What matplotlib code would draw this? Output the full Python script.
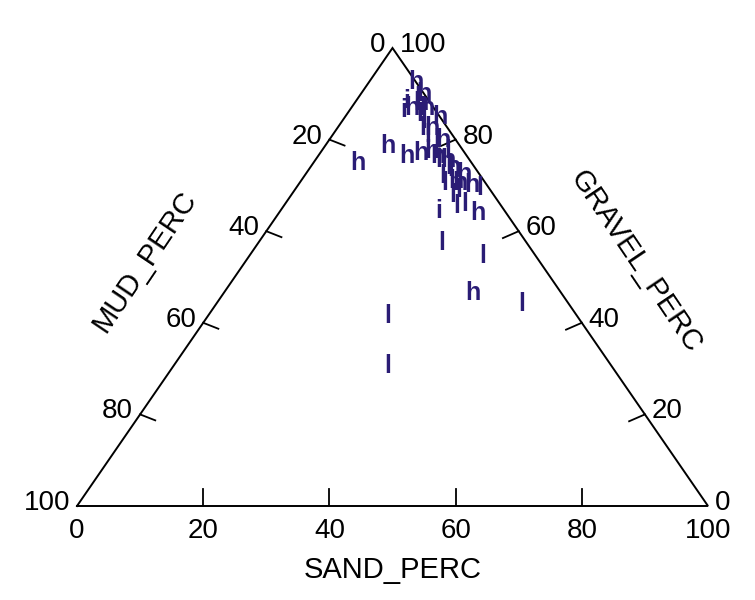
import numpy as np
import matplotlib.pyplot as plt

# sample codes and composition (percent)
codes = ['h', 'h', 'i', 'h', 'h', 'h', 'h', 'l', 'l', 'h',
         'l', 'l', 'h', 'l', 'h', 'h', 'h', 'h', 'l', 'l',
         'l', 'l', 'h', 'h', 'h', 'h', 'h', 'h', 'l', 'i',
         'l', 'l', 'h', 'l', 'l', 'h', 'l', 'l', 'l', 'l',
         'l', 'h', 'l', 'h', 'l', 'i']
sand = [7.5, 10, 8, 9.5, 10.5, 12, 15, 11.5, 13, 15,
        13.5, 17, 18, 20, 19, 22.5, 25, 24.5, 22.5, 23,
        26, 25.5, 27.5, 7, 10, 14, 16, 17.5, 29, 25,
        27.5, 28.5, 31.5, 29, 37, 39.5, 48.5, 28.5, 34, 15,
        19.5, 21, 22, 25.5, 9.5, 8.5]
gravel = [92.5, 90, 88.5, 87, 88, 87, 85, 85.5, 84, 82.5,
          82.5, 80, 80, 77.5, 76.5, 74, 72.5, 71, 73.5, 70.5,
          69, 68, 70, 75, 78.5, 76.5, 77, 77.5, 69.5, 64.5,
          65.5, 66, 64, 57.5, 54.5, 46.5, 44, 41.5, 30.5, 81,
          75.5, 75.5, 72, 70.5, 89, 86.5]

ticks = [20, 40, 60, 80]
font = ['Liberation Sans', 'DejaVu Sans']
pt = 72 / 100  # pixels -> points


def tern(s, g):
    # sand along the base, gravel up to the apex
    s = np.asarray(s, dtype=float)
    g = np.asarray(g, dtype=float)
    return s + g / 2, g


fig = plt.figure(figsize=(7.55, 6.0), dpi=100)
ax = fig.add_axes([77 / 755, 94 / 600, 631 / 755, 458 / 600])
ax.set_xlim(0, 100)
ax.set_ylim(0, 100)
ax.axis('off')

# frame
ax.plot([0, 100, 50, 0], [0, 0, 100, 0], color='black', lw=1.4,
        clip_on=False, solid_joinstyle='miter')

for t in ticks:
    # sand (bottom)
    ax.plot([t, t], [0, 3.8], color='black', lw=1.3)
    # mud (left side): mud = t -> gravel = 100 - t
    x, y = tern(0, 100 - t)
    ax.plot([x, x + 2.4], [y, y - 1.3], color='black', lw=1.3)
    # gravel (right side)
    x, y = tern(100 - t, t)
    ax.plot([x, x - 2.5], [y, y - 1.5], color='black', lw=1.3)

lab = dict(fontsize=20, family=font, textcoords='offset points',
           annotation_clip=False)
for t in [0] + ticks + [100]:
    ax.annotate(str(t), (t, 0), xytext=(0, -25 * pt), ha='center',
                va='center', **lab)
    x, y = tern(0, 100 - t)
    ax.annotate(str(t), (x, y), xytext=(-7 * pt, 3 * pt), ha='right',
                va='center', **lab)
    x, y = tern(100 - t, t)
    ax.annotate(str(t), (x, y), xytext=(7 * pt, 3 * pt), ha='left',
                va='center', **lab)

ax.text(50, -14, 'SAND_PERC', fontsize=21, family=font,
        ha='center', va='center')
ax.text(10.8, 53.3, 'MUD_PERC', fontsize=21, family=font, rotation=56,
        rotation_mode='anchor', ha='center', va='center')
ax.text(88.5, 53.3, 'GRAVEL_PERC', fontsize=21, family=font, rotation=-56,
        rotation_mode='anchor', ha='center', va='center')

# samples, drawn as letter markers
xs, ys = tern(sand, gravel)
for c, x, y in zip(codes, xs, ys):
    ax.text(x, y, c, fontsize=18, family=font, color='#2a1c75',
            weight='bold', ha='center', va='center')

fig.savefig('out.png', dpi=100)
